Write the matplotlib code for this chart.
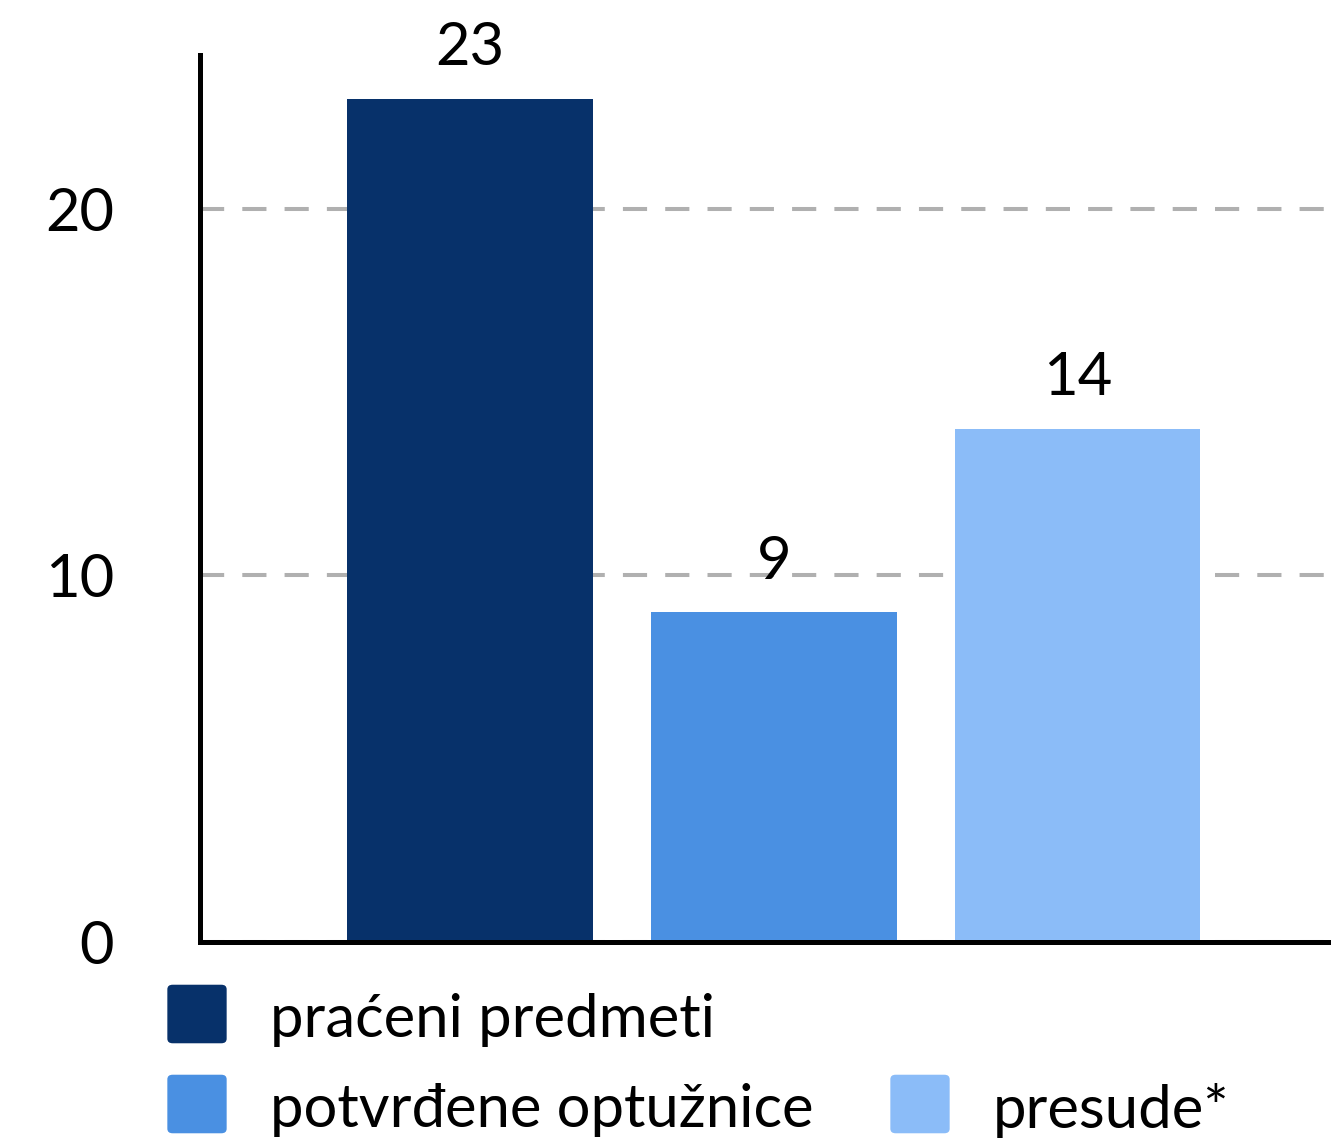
import matplotlib.pyplot as plt
from matplotlib.patches import FancyBboxPatch

plt.rcParams['font.family'] = ['Lato', 'DejaVu Sans']

# data
labels = ['praćeni predmeti', 'potvrđene optužnice', 'presude*']
values = [23, 9, 14]
colors = ['#07316a', '#4a90e2', '#8bbcf8']
yticks = [0, 10, 20]

W, H = 1331, 1140
fig = plt.figure(figsize=(W / 100, H / 100), dpi=100)
ax = fig.add_axes([200 / W, (H - 942) / H, 1131 / W, 887 / H])

x = list(range(len(values)))
ax.bar(x, values, width=0.81, color=colors, zorder=3)

for xi, v in zip(x, values):
    ax.annotate(str(v), (xi, v), xytext=(0, 17), textcoords='offset points',
                ha='center', va='bottom', fontsize=43, zorder=4)

ax.set_xlim(-0.89, 2.835)
ax.set_ylim(0, 24.2)
ax.set_yticks(yticks)
ax.set_yticklabels([str(t) for t in yticks], fontsize=43)
ax.set_xticks([])
ax.tick_params(axis='y', length=0, pad=62)

ax.yaxis.grid(True, color='#b0b0b0', linestyle=(0, (6, 4.5)), linewidth=2.9, zorder=1)
for s in ['top', 'right']:
    ax.spines[s].set_visible(False)
ax.spines['left'].set_linewidth(3.6)
ax.spines['bottom'].set_linewidth(3.6)
ax.spines['left'].set_zorder(5)
ax.spines['bottom'].set_zorder(5)

# legend drawn by hand: first item on its own row, other two on the second row
leg_pos = [(167, 1014), (167, 1104), (890, 1104)]
for (px, py), lab, col in zip(leg_pos, labels, colors):
    box = FancyBboxPatch(((px + 3) / W, (H - py - 27) / H), 54 / W, 54 / H,
                         boxstyle='round,pad=0.002,rounding_size=0.004',
                         transform=fig.transFigure, facecolor=col, edgecolor='none')
    fig.patches.append(box)
    fig.text((px + 103) / W, (H - py - 6) / H, lab, fontsize=43, va='center', ha='left')

fig.savefig('out.png', dpi=100)
